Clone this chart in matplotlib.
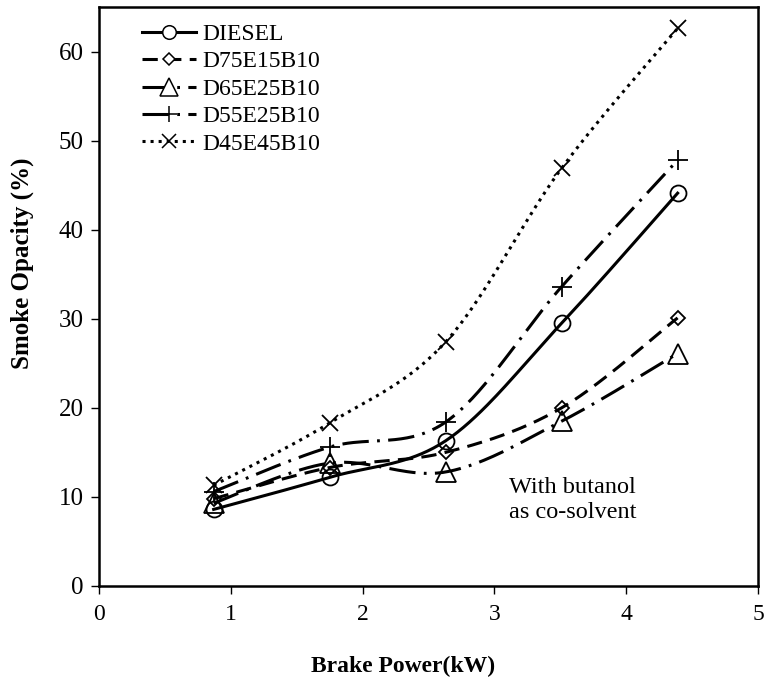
import numpy as np
import matplotlib
matplotlib.use("Agg")
import matplotlib.pyplot as plt
from matplotlib.lines import Line2D

plt.rcParams['font.family'] = ['Liberation Serif', 'DejaVu Serif']
plt.rcParams['lines.scale_dashes'] = False

# Brake power (kW) and smoke opacity (%) for each fuel blend
brake_power = [0.87, 1.75, 2.63, 3.51, 4.39]
diesel = [8.6, 12.2, 16.3, 29.5, 44.1]
d75e15b10 = [9.8, 13.3, 15.0, 20.0, 30.1]
d65e25b10 = [9.3, 13.8, 12.8, 18.5, 26.1]
d55e25b10 = [10.6, 15.6, 18.4, 33.6, 47.8]
d45e45b10 = [11.3, 18.3, 27.4, 46.9, 62.6]

labels = ["DIESEL", "D75E15B10", "D65E25B10", "D55E25B10", "D45E45B10"]
series = [diesel, d75e15b10, d65e25b10, d55e25b10, d45e45b10]

styles = [
    dict(ls='-', marker='o', ms=11.5),
    dict(ls=(0, (11, 6)), marker='D', ms=7),
    dict(ls=(0, (19, 6, 2, 6)), marker='^', ms=15),
    dict(ls=(0, (19, 6, 2, 6)), marker='+', ms=14),
    dict(ls=(0, (2.2, 3.6)), marker='x', ms=12),
]

XMAX, YMAX = 5, 65
W_PX, H_PX = 659.0, 579.0


def smooth(xs, ys, n=40):
    """Smoothed Bezier curve through the points (Catmull-Rom style control points)."""
    p = np.column_stack([np.asarray(xs) / XMAX * W_PX, np.asarray(ys) / YMAX * H_PX])
    pts = np.vstack([p[0], p, p[-1]])
    out = []
    t = np.linspace(0, 1, n)[:, None]
    for i in range(1, len(pts) - 2):
        p0, p1, p2, p3 = pts[i - 1], pts[i], pts[i + 1], pts[i + 2]
        c1 = p1 + (p2 - p0) / 6.0
        c2 = p2 - (p3 - p1) / 6.0
        seg = ((1 - t) ** 3) * p1 + 3 * ((1 - t) ** 2) * t * c1 + 3 * (1 - t) * t ** 2 * c2 + t ** 3 * p2
        out.append(seg if i == 1 else seg[1:])
    c = np.vstack(out)
    return c[:, 0] / W_PX * XMAX, c[:, 1] / H_PX * YMAX


fig = plt.figure(figsize=(7.65, 6.85), dpi=100)
ax = fig.add_axes([99 / 765, 1 - 586 / 685, 659 / 765, 579 / 685])

handles = []
for lab, ys, st in zip(labels, series, styles):
    sx, sy = smooth(brake_power, ys)
    ax.plot(sx, sy, color='black', lw=2.2, ls=st['ls'], dash_capstyle='butt')
    ax.plot(brake_power, ys, ls='none', marker=st['marker'], ms=st['ms'],
            mfc='none', mec='black', mew=1.3)
    handles.append(Line2D([], [], color='black', lw=2.2, ls=st['ls'],
                          marker=st['marker'], ms=st['ms'] * 0.85,
                          mfc='white', mec='black', mew=1.1))

ax.set_xlim(0, XMAX)
ax.set_ylim(0, YMAX)
ax.set_xticks(range(0, 6))
ax.set_yticks(range(0, 61, 10))
ax.tick_params(direction='out', length=6, width=1)
ax.tick_params(axis='x', labelsize=17, pad=7)
ax.tick_params(axis='y', labelsize=18, pad=5)
for s in ax.spines.values():
    s.set_linewidth(1.8)

fig.text(403 / 765, 1 - 666 / 685, "Brake Power(kW)", fontsize=17, fontweight='bold',
         ha='center', va='center')
fig.text(22 / 765, 1 - 263 / 685, "Smoke Opacity (%)", fontsize=18, fontweight='bold',
         ha='center', va='center', rotation=90)

leg = ax.legend(handles, labels, loc='upper left', bbox_to_anchor=(0.051, 0.988),
                frameon=False, fontsize=17, handlelength=2.3, handletextpad=0.25,
                labelspacing=0.25, numpoints=1, borderaxespad=0)

ax.text(3.11, 9.65, "With butanol\nas co-solvent", fontsize=17.5, ha='left', va='center',
        linespacing=1.3)

fig.savefig("out.png", dpi=100)
